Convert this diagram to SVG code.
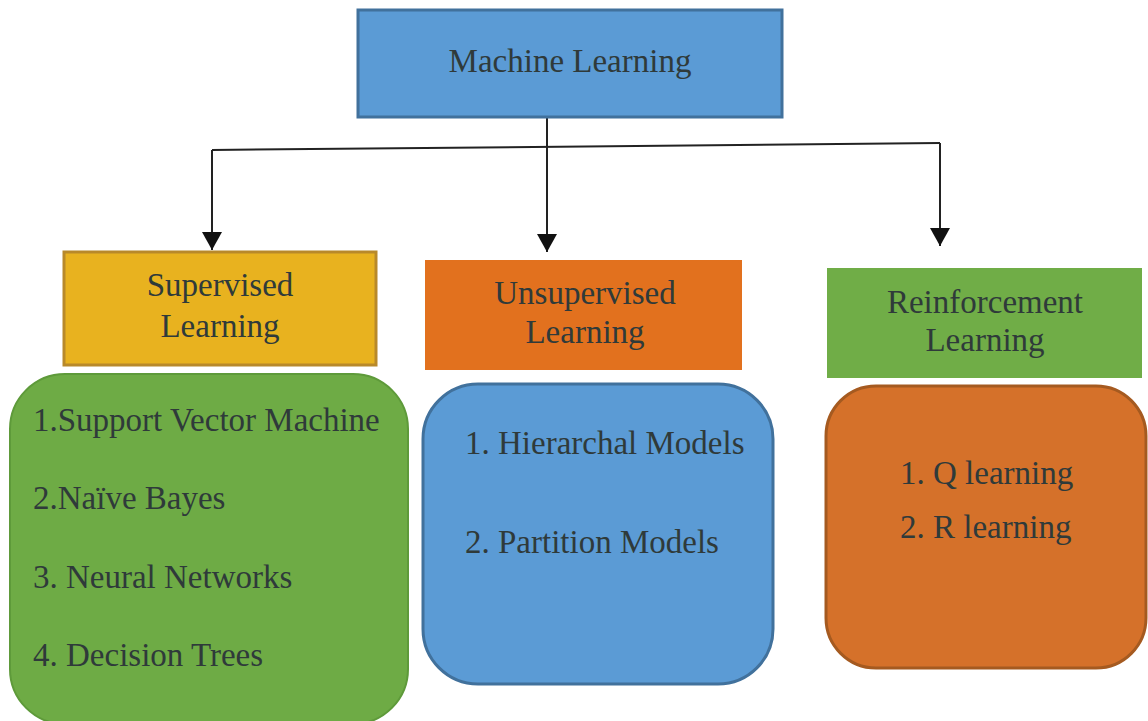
<svg xmlns="http://www.w3.org/2000/svg" width="1148" height="721" viewBox="0 0 1148 721">
<defs>
<style>
.t{font-family:"Liberation Serif","Times New Roman",serif;fill:#2f3a3a;font-size:33px}
.c{text-anchor:middle}
.ln{stroke:#222;stroke-width:2;fill:none}
</style>
<marker id="ah" viewBox="0 0 18 20" refX="18" refY="10" markerWidth="18" markerHeight="20" markerUnits="userSpaceOnUse" orient="auto">
<path d="M0,0 L18,10 L0,20 Z" fill="#111"/>
</marker>
</defs>
<rect width="1148" height="721" fill="#fff"/>
<g id="connectors">
<path class="ln" d="M547,117 V252" marker-end="url(#ah)"/>
<path class="ln" d="M212,150 L940,143"/>
<path class="ln" d="M212,150 V250" marker-end="url(#ah)"/>
<path class="ln" d="M940,143 V246" marker-end="url(#ah)"/>
</g>
<g id="machine-learning">
<rect x="358" y="10" width="424" height="107" fill="#5B9BD5" stroke="#41719C" stroke-width="3"/>
<text class="t c" x="570" y="72">Machine Learning</text>
</g>
<g id="supervised">
<rect x="64" y="252" width="312" height="113" fill="#E8B21F" stroke="#B8892A" stroke-width="3"/>
<text class="t c" x="220" y="296">Supervised</text>
<text class="t c" x="220" y="337">Learning</text>
</g>
<g id="supervised-list">
<rect x="10" y="374" width="398" height="350" rx="55" fill="#6EAB45" stroke="#5E9A3A" stroke-width="2"/>
<text class="t" x="33" y="431">1.Support Vector Machine</text>
<text class="t" x="33" y="509">2.Naïve Bayes</text>
<text class="t" x="33" y="588">3. Neural Networks</text>
<text class="t" x="33" y="666">4. Decision Trees</text>
</g>
<g id="unsupervised">
<rect x="425" y="260" width="317" height="110" fill="#E2711E"/>
<text class="t c" x="585" y="304">Unsupervised</text>
<text class="t c" x="585" y="343">Learning</text>
</g>
<g id="unsupervised-list">
<rect x="423" y="384" width="350" height="300" rx="55" fill="#5B9BD5" stroke="#41719C" stroke-width="3"/>
<text class="t" x="465" y="454">1. Hierarchal Models</text>
<text class="t" x="465" y="553">2. Partition Models</text>
</g>
<g id="reinforcement">
<rect x="827" y="268" width="315" height="110" fill="#70AD47"/>
<text class="t c" x="985" y="313">Reinforcement</text>
<text class="t c" x="985" y="351">Learning</text>
</g>
<g id="reinforcement-list">
<rect x="826" y="386" width="320" height="282" rx="50" fill="#D5712A" stroke="#A55A20" stroke-width="3"/>
<text class="t" x="900" y="484">1. Q learning</text>
<text class="t" x="900" y="538">2. R learning</text>
</g>
</svg>
